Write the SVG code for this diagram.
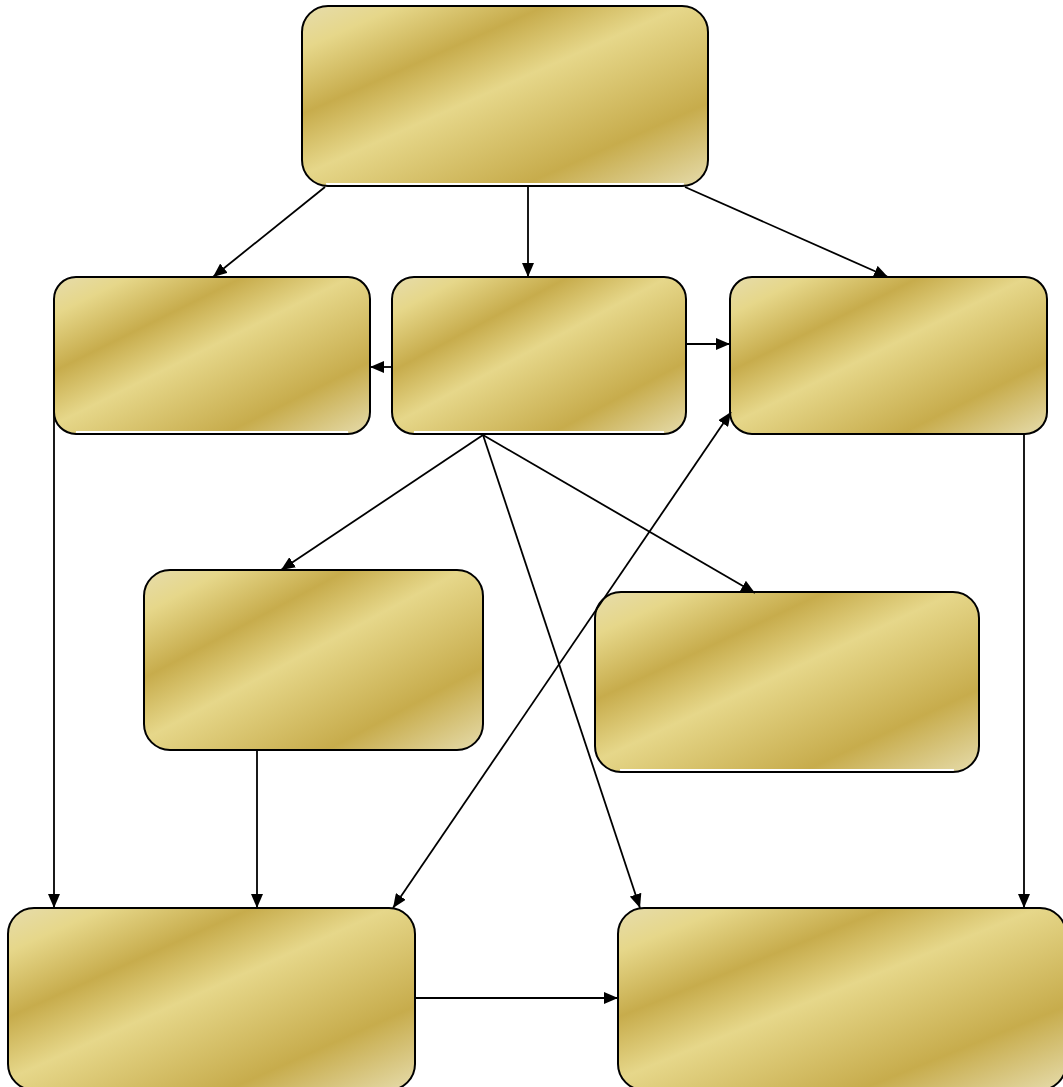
<svg xmlns="http://www.w3.org/2000/svg" width="1063" height="1087" viewBox="0 0 1063 1087">
<defs>
<linearGradient id="gold" x1="0" y1="0" x2="1" y2="1">
<stop offset="0" stop-color="#E6DCAC"/>
<stop offset="0.12" stop-color="#E6D78A"/>
<stop offset="0.30" stop-color="#C7AC4C"/>
<stop offset="0.47" stop-color="#E6D78A"/>
<stop offset="0.77" stop-color="#C7AC4C"/>
<stop offset="1" stop-color="#E6DCAC"/>
</linearGradient>
<marker id="arr" markerWidth="15" markerHeight="12" refX="14" refY="6" orient="auto-start-reverse" markerUnits="userSpaceOnUse">
<path d="M0,0 L14,6 L0,12 z" fill="#000"/>
</marker>
</defs>
<style>
.fill{fill:url(#gold);stroke:none}
.gap{stroke:#fff;stroke-width:2}
.out{fill:none;stroke:#000;stroke-width:2}
.c line{stroke:#000;stroke-width:1.8;fill:none}
</style>
<g id="n1">
<rect class="fill" x="302" y="6" width="406" height="180" rx="26"/>
<line class="gap" x1="326" y1="184" x2="684" y2="184"/>
<rect class="out" x="302" y="6" width="406" height="180" rx="26"/>
</g>
<g id="n2">
<rect class="fill" x="54" y="277" width="316" height="157" rx="22"/>
<line class="gap" x1="76" y1="432" x2="348" y2="432"/>
<rect class="out" x="54" y="277" width="316" height="157" rx="22"/>
</g>
<g id="n3">
<rect class="fill" x="392" y="277" width="294" height="157" rx="22"/>
<line class="gap" x1="414" y1="432" x2="664" y2="432"/>
<rect class="out" x="392" y="277" width="294" height="157" rx="22"/>
</g>
<g id="n4">
<rect class="fill" x="730" y="277" width="317" height="157" rx="22"/>
<rect class="out" x="730" y="277" width="317" height="157" rx="22"/>
</g>
<g id="n5">
<rect class="fill" x="144" y="570" width="339" height="180" rx="26"/>
<rect class="out" x="144" y="570" width="339" height="180" rx="26"/>
</g>
<g id="n6">
<rect class="fill" x="595" y="592" width="384" height="180" rx="26"/>
<line class="gap" x1="620" y1="770" x2="954" y2="770"/>
<rect class="out" x="595" y="592" width="384" height="180" rx="26"/>
</g>
<g id="n7">
<rect class="fill" x="8" y="908" width="407" height="182" rx="26"/>
<rect class="out" x="8" y="908" width="407" height="182" rx="26"/>
</g>
<g id="n8">
<rect class="fill" x="618" y="908" width="448" height="182" rx="26"/>
<rect class="out" x="618" y="908" width="448" height="182" rx="26"/>
</g>
<g id="connectors" class="c">
<line x1="325" y1="187" x2="213" y2="277" marker-end="url(#arr)"/>
<line x1="528" y1="187" x2="528" y2="277" marker-end="url(#arr)"/>
<line x1="685" y1="187" x2="888" y2="277" marker-end="url(#arr)"/>
<line x1="392" y1="367" x2="370" y2="367" marker-end="url(#arr)"/>
<line x1="686" y1="344" x2="730" y2="344" marker-end="url(#arr)"/>
<line x1="483" y1="435" x2="281" y2="570" marker-end="url(#arr)"/>
<line x1="483" y1="435" x2="755" y2="593" marker-end="url(#arr)"/>
<line x1="483" y1="435" x2="640" y2="908" marker-end="url(#arr)"/>
<line x1="393" y1="908" x2="731" y2="412" marker-start="url(#arr)" marker-end="url(#arr)"/>
<line x1="54" y1="408" x2="54" y2="908" marker-end="url(#arr)"/>
<line x1="257" y1="750" x2="257" y2="908" marker-end="url(#arr)"/>
<line x1="1024" y1="434" x2="1024" y2="908" marker-end="url(#arr)"/>
<line x1="415" y1="998" x2="618" y2="998" marker-end="url(#arr)"/>
</g>
</svg>
